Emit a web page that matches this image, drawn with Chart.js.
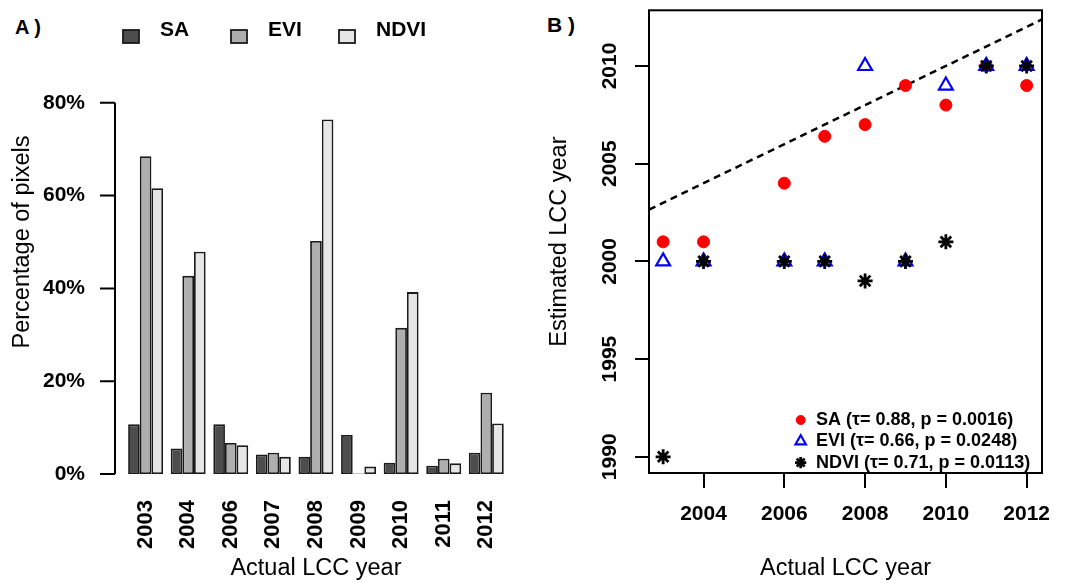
<!DOCTYPE html>
<html>
<head>
<meta charset="utf-8">
<script src="https://cdn.jsdelivr.net/npm/chart.js@4.4.0/dist/chart.umd.min.js"></script>
<style>
  body { margin:0; background:#fff; width:1069px; height:583px; overflow:hidden; position:relative; font-family:"Liberation Sans", Arial, sans-serif; }
  .panel { position:absolute; top:0; height:583px; }
  .tag { position:absolute; font-weight:bold; line-height:1; color:#000; }
</style>
</head>
<body>
<div class="tag" style="left:15px;top:17px;font-size:20px">A )</div>
<div class="tag" style="left:547px;top:14px;font-size:21px">B )</div>
<div class="panel" style="left:0;width:530px"><canvas id="barChart"></canvas></div>
<div class="panel" style="left:530px;width:539px"><canvas id="scatterChart"></canvas></div>
<script>
// ---------------- DATA ----------------

// A) share of pixels per actual LCC year
const years = ["2003", "2004", "2006", "2007", "2008", "2009", "2010", "2011", "2012"];
const saPct   = [10.7, 5.5, 10.7, 4.2, 3.7, 8.4, 2.4, 1.8, 4.6];
const eviPct  = [68.5, 42.7, 6.7, 4.6, 50.2, 0.1, 31.5, 3.3, 17.5];
const ndviPct = [61.6, 47.9, 6.2, 3.7, 76.4, 1.6, 39.2, 2.3, 10.9];
const pctTicks = [0, 20, 40, 60, 80];

// B) estimated vs actual LCC year
const actualYear = [2003, 2004, 2006, 2007, 2008, 2009, 2010, 2011, 2012];
const saEst   = [2001, 2001, 2004, 2006.4, 2007, 2009, 2008, 2010, 2009];
const eviEst  = [2000, 2000, 2000, 2000, 2010, 2000, 2009, 2010, 2010];
const ndviEst = [1990, 2000, 2000, 2000, 1999, 2000, 2001, 2010, 2010];
const xYearTicks = [2004, 2006, 2008, 2010, 2012];
const yYearTicks = [1990, 1995, 2000, 2005, 2010];
const oneToOne = [1985, 2015];

const seriesNames = ["SA", "EVI", "NDVI"];
const fitLabels = ["SA (τ= 0.88, p = 0.0016)", "EVI (τ= 0.66, p = 0.0248)", "NDVI (τ= 0.71, p = 0.0113)"];

const FONT = "'Liberation Sans', Arial, sans-serif";
Chart.defaults.font.family = FONT;
Chart.defaults.color = "#000";

const tickFont = {family: FONT, size: 21, weight: "bold"};
const titleFont = {family: FONT, size: 23.5, weight: "normal"};


// ---------------- PLUGINS ----------------

// R style axis: line only over the tick range
const rAxis = {
    id: "rAxis",
    afterDraw(chart){
        const {ctx, chartArea, scales} = chart;
        const y = scales.y;
        const ax = chartArea.left - 9.3;
        ctx.save();
        ctx.strokeStyle = "#000";
        ctx.lineWidth = 2;
        ctx.beginPath();
        ctx.moveTo(ax, y.getPixelForValue(pctTicks[0]));
        ctx.lineTo(ax, y.getPixelForValue(pctTicks[pctTicks.length - 1]));
        pctTicks.forEach(v => {
            const py = y.getPixelForValue(v);
            ctx.moveTo(ax - 15, py);
            ctx.lineTo(ax, py);
        });
        ctx.stroke();
        ctx.restore();
    }
};

const barLegend = {
    id: "barLegend",
    afterDraw(chart){
        const ctx = chart.ctx;
        ctx.save();
        ctx.font = "bold 21px " + FONT;
        ctx.textBaseline = "middle";
        chart.data.datasets.forEach((ds, i) => {
            const x = 123 + i * 108;
            ctx.fillStyle = ds.backgroundColor;
            ctx.fillRect(x, 30, 16, 13);
            ctx.strokeStyle = "#1a1a1a";
            ctx.lineWidth = 1.8;
            ctx.strokeRect(x, 30, 16, 13);
            ctx.fillStyle = "#000";
            ctx.fillText(ds.label, x + 37, 30);
        });
        ctx.restore();
    }
};

const boxPlot = {
    id: "boxPlot",
    afterDraw(chart){
        const {ctx, chartArea: a} = chart;
        ctx.save();
        ctx.strokeStyle = "#000";
        ctx.lineWidth = 2;
        ctx.strokeRect(a.left, a.top, a.right - a.left, a.bottom - a.top);
        ctx.restore();
    }
};

const fitLegend = {
    id: "fitLegend",
    afterDatasetsDraw(chart){
        const ctx = chart.ctx;
        ctx.save();
        fitLabels.forEach((txt, i) => {
            const ds = chart.data.datasets[i];
            const y = 420 + i * 21.3;
            ctx.fillStyle = ds.backgroundColor;
            ctx.strokeStyle = ds.borderColor;
            ctx.lineWidth = ds.borderWidth;
            Chart.helpers.drawPoint(ctx, {pointStyle: ds.pointStyle, radius: ds.pointRadius * 0.75, borderWidth: ds.borderWidth, rotation: 0}, 270.7, y);
            ctx.fillStyle = "#000";
            ctx.font = "bold 18px " + FONT;
            ctx.textBaseline = "middle";
            ctx.fillText(txt, 286, y);
        });
        ctx.restore();
    }
};


// ---------------- A) BAR CHART ----------------

new Chart(document.getElementById("barChart"), {

    type: "bar",

    data: {
        labels: years,
        datasets: [
            {label: seriesNames[0], data: saPct,   backgroundColor: "#4d4d4d"},
            {label: seriesNames[1], data: eviPct,  backgroundColor: "#aeaeae"},
            {label: seriesNames[2], data: ndviPct, backgroundColor: "#e6e6e6"}
        ]
    },

    options: {
        responsive: true,
        maintainAspectRatio: false,
        animation: false,
        layout: {padding: {top: 10, right: 22.4, left: 0, bottom: 0}},
        datasets: {
            bar: {borderColor: "#1a1a1a", borderWidth: 1.8, borderSkipped: false, categoryPercentage: 0.82, barPercentage: 1}
        },
        plugins: {legend: {display: false}, tooltip: {enabled: false}},
        scales: {
            x: {
                grid: {display: false, drawTicks: false},
                border: {display: false},
                ticks: {minRotation: 90, maxRotation: 90, autoSkip: false, padding: 26, color: "#000", font: {family: FONT, size: 22, weight: "bold"}},
                title: {display: true, text: "Actual LCC year", color: "#000", font: titleFont, padding: {top: 0, bottom: 0}},
                afterFit: s => { s.height = 109; s.paddingLeft = 0; s.paddingRight = 0; }
            },
            y: {
                min: 0,
                max: 100,
                grid: {display: false, drawTicks: false},
                border: {display: false},
                afterBuildTicks: s => { s.ticks = pctTicks.map(v => ({value: v})); },
                ticks: {padding: 39.3, color: "#000", font: tickFont, callback: v => v + "%"},
                title: {display: true, text: "Percentage of pixels", color: "#000", font: titleFont, padding: {top: 8, bottom: 0}},
                afterFit: s => { s.width = 124.3; s.paddingTop = 0; s.paddingBottom = 0; }
            }
        }
    },

    plugins: [rAxis, barLegend]

});


// ---------------- B) SCATTER ----------------

const pairs = est => actualYear.map((x, i) => ({x: x, y: est[i]}));

new Chart(document.getElementById("scatterChart"), {

    type: "scatter",

    data: {
        datasets: [
            {label: seriesNames[0], data: pairs(saEst), pointStyle: "circle", pointRadius: 6, backgroundColor: "#ff0000", borderColor: "#ff0000", borderWidth: 1, order: 3},
            {label: seriesNames[1], data: pairs(eviEst), pointStyle: "triangle", pointRadius: 8, backgroundColor: "rgba(0,0,0,0)", borderColor: "#0000ff", borderWidth: 2.2, order: 2},
            {label: seriesNames[2], data: pairs(ndviEst), pointStyle: "star", pointRadius: 7.5, backgroundColor: "#000", borderColor: "#000", borderWidth: 2.8, order: 1},
            {type: "line", label: "1:1", data: oneToOne.map(v => ({x: v, y: v})), borderColor: "#000", borderWidth: 2.5, borderDash: [7, 5], pointRadius: 0, order: 4}
        ]
    },

    options: {
        responsive: true,
        maintainAspectRatio: false,
        animation: false,
        layout: {padding: {top: 10, right: 27, left: 0, bottom: 0}},
        plugins: {legend: {display: false}, tooltip: {enabled: false}},
        scales: {
            x: {
                type: "linear",
                min: 2002.65,
                max: 2012.38,
                afterBuildTicks: s => { s.ticks = xYearTicks.map(v => ({value: v})); },
                grid: {display: true, drawOnChartArea: false, drawTicks: true, tickLength: 15, color: "#000", lineWidth: 2},
                border: {display: false},
                ticks: {padding: 13.4, color: "#000", font: tickFont, callback: v => String(v)},
                title: {display: true, text: "Actual LCC year", color: "#000", font: titleFont, padding: {top: 0, bottom: 0}},
                afterFit: s => { s.height = 110; s.paddingLeft = 0; s.paddingRight = 0; }
            },
            y: {
                type: "linear",
                min: 1989.17,
                max: 2012.85,
                afterBuildTicks: s => { s.ticks = yYearTicks.map(v => ({value: v})); },
                grid: {display: true, drawOnChartArea: false, drawTicks: true, tickLength: 14, color: "#000", lineWidth: 2},
                border: {display: false},
                ticks: {minRotation: 90, maxRotation: 90, crossAlign: "center", padding: 1, color: "#000", font: tickFont, callback: v => String(v)},
                title: {display: true, text: "Estimated LCC year", color: "#000", font: titleFont, padding: {top: 15, bottom: 0}},
                afterFit: s => { s.width = 119; s.paddingTop = 0; s.paddingBottom = 0; }
            }
        }
    },

    plugins: [boxPlot, fitLegend]

});
</script>
</body>
</html>
